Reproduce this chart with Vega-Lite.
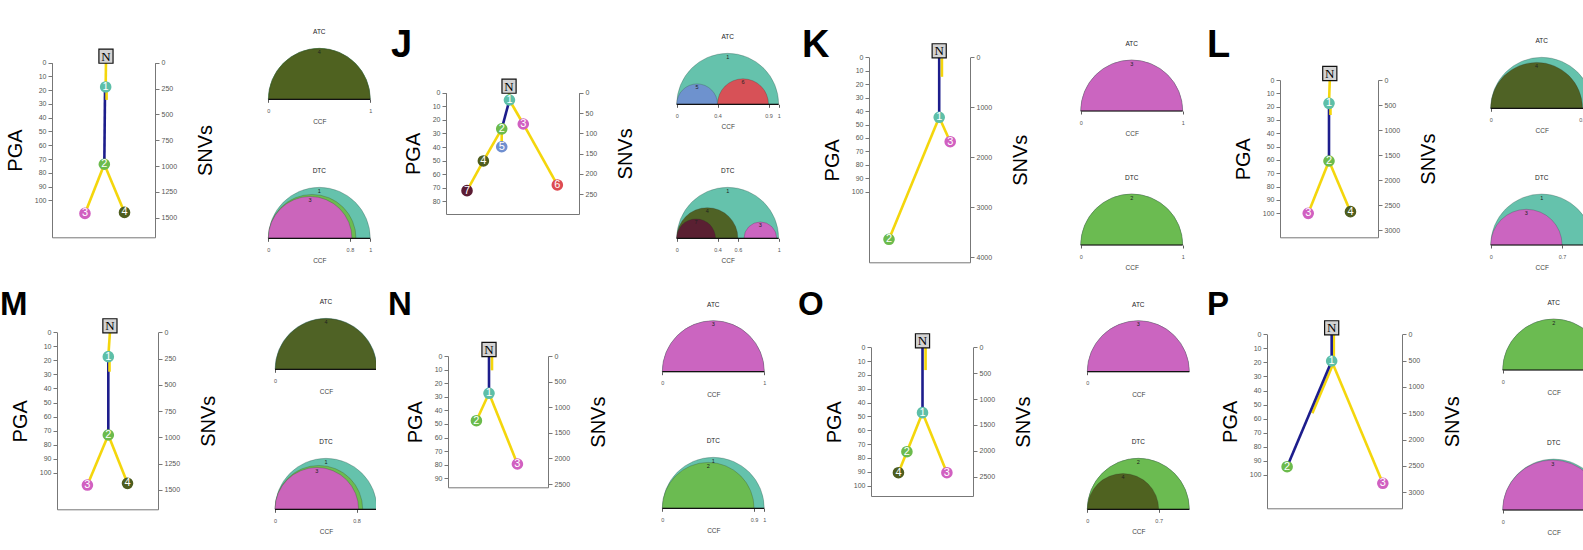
{
  "$schema": "https://vega.github.io/schema/vega-lite/v6.json",
  "padding": 0,
  "background": "white",
  "usermeta": {"embedOptions": {"actions": false}},
  "datasets": {
    "nodes": [
      {"p":"I","id":"N","x":0.524,"s":0},{"p":"I","id":"1","x":0.521,"s":235},{"p":"I","id":"2","x":0.508,"s":983},{"p":"I","id":"3","x":0.32,"s":1459},{"p":"I","id":"4","x":0.704,"s":1449},
      {"p":"J","id":"N","x":0.474,"s":0},{"p":"J","id":"1","x":0.477,"s":18},{"p":"J","id":"2","x":0.419,"s":89},{"p":"J","id":"3","x":0.581,"s":77},{"p":"J","id":"4","x":0.281,"s":168},{"p":"J","id":"5","x":0.419,"s":133},{"p":"J","id":"6","x":0.837,"s":227},{"p":"J","id":"7","x":0.158,"s":241},
      {"p":"K","id":"N","x":0.695,"s":0},{"p":"K","id":"1","x":0.695,"s":1200},{"p":"K","id":"2","x":0.198,"s":3640},{"p":"K","id":"3","x":0.804,"s":1688},
      {"p":"L","id":"N","x":0.508,"s":0},{"p":"L","id":"1","x":0.5,"s":467},{"p":"L","id":"2","x":0.5,"s":1620},{"p":"L","id":"3","x":0.288,"s":2667},{"p":"L","id":"4","x":0.719,"s":2633},
      {"p":"M","id":"N","x":0.524,"s":0},{"p":"M","id":"1","x":0.508,"s":232},{"p":"M","id":"2","x":0.508,"s":977},{"p":"M","id":"3","x":0.301,"s":1453},{"p":"M","id":"4","x":0.698,"s":1437},
      {"p":"N","id":"N","x":0.41,"s":0},{"p":"N","id":"1","x":0.41,"s":728},{"p":"N","id":"2","x":0.284,"s":1264},{"p":"N","id":"3","x":0.694,"s":2109},
      {"p":"O","id":"N","x":0.505,"s":0},{"p":"O","id":"1","x":0.505,"s":1263},{"p":"O","id":"2","x":0.352,"s":2017},{"p":"O","id":"3","x":0.744,"s":2423},{"p":"O","id":"4","x":0.269,"s":2423},
      {"p":"P","id":"N","x":0.479,"s":0},{"p":"P","id":"1","x":0.479,"s":507},{"p":"P","id":"2","x":0.149,"s":2514},{"p":"P","id":"3","x":0.858,"s":2829}
    ],
    "edges": [
      {"p":"I","x1":0.524,"s1":0,"x2":0.521,"s2":235,"k":"branch"},{"p":"I","x1":0.515,"s1":235,"x2":0.508,"s2":983,"k":"trunk"},{"p":"I","x1":0.53,"s1":235,"x2":0.53,"s2":360,"k":"branch"},{"p":"I","x1":0.508,"s1":983,"x2":0.32,"s2":1459,"k":"branch"},{"p":"I","x1":0.508,"s1":983,"x2":0.704,"s2":1449,"k":"branch"},
      {"p":"J","x1":0.474,"s1":0,"x2":0.477,"s2":18,"k":"branch"},{"p":"J","x1":0.477,"s1":18,"x2":0.419,"s2":89,"k":"trunk"},{"p":"J","x1":0.419,"s1":89,"x2":0.419,"s2":133,"k":"branch"},{"p":"J","x1":0.419,"s1":89,"x2":0.281,"s2":168,"k":"branch"},{"p":"J","x1":0.281,"s1":168,"x2":0.158,"s2":241,"k":"branch"},{"p":"J","x1":0.477,"s1":18,"x2":0.581,"s2":77,"k":"branch"},{"p":"J","x1":0.581,"s1":77,"x2":0.837,"s2":227,"k":"branch"},
      {"p":"K","x1":0.695,"s1":0,"x2":0.695,"s2":1200,"k":"trunk"},{"p":"K","x1":0.722,"s1":20,"x2":0.722,"s2":390,"k":"branch"},{"p":"K","x1":0.695,"s1":1200,"x2":0.198,"s2":3640,"k":"branch"},{"p":"K","x1":0.695,"s1":1200,"x2":0.804,"s2":1688,"k":"branch"},
      {"p":"L","x1":0.508,"s1":0,"x2":0.5,"s2":467,"k":"branch"},{"p":"L","x1":0.5,"s1":467,"x2":0.5,"s2":1620,"k":"trunk"},{"p":"L","x1":0.515,"s1":467,"x2":0.515,"s2":700,"k":"branch"},{"p":"L","x1":0.5,"s1":1620,"x2":0.288,"s2":2667,"k":"branch"},{"p":"L","x1":0.5,"s1":1620,"x2":0.719,"s2":2633,"k":"branch"},
      {"p":"M","x1":0.524,"s1":0,"x2":0.508,"s2":232,"k":"branch"},{"p":"M","x1":0.508,"s1":232,"x2":0.508,"s2":977,"k":"trunk"},{"p":"M","x1":0.52,"s1":232,"x2":0.52,"s2":375,"k":"branch"},{"p":"M","x1":0.508,"s1":977,"x2":0.301,"s2":1453,"k":"branch"},{"p":"M","x1":0.508,"s1":977,"x2":0.698,"s2":1437,"k":"branch"},
      {"p":"N","x1":0.41,"s1":0,"x2":0.41,"s2":728,"k":"trunk"},{"p":"N","x1":0.44,"s1":0,"x2":0.44,"s2":280,"k":"branch"},{"p":"N","x1":0.41,"s1":728,"x2":0.284,"s2":1264,"k":"branch"},{"p":"N","x1":0.41,"s1":728,"x2":0.694,"s2":2109,"k":"branch"},
      {"p":"O","x1":0.505,"s1":0,"x2":0.505,"s2":1263,"k":"trunk"},{"p":"O","x1":0.535,"s1":0,"x2":0.535,"s2":440,"k":"branch"},{"p":"O","x1":0.505,"s1":1263,"x2":0.352,"s2":2017,"k":"branch"},{"p":"O","x1":0.352,"s1":2017,"x2":0.269,"s2":2423,"k":"branch"},{"p":"O","x1":0.505,"s1":1263,"x2":0.744,"s2":2423,"k":"branch"},
      {"p":"P","x1":0.495,"s1":0,"x2":0.495,"s2":507,"k":"branch"},{"p":"P","x1":0.479,"s1":0,"x2":0.479,"s2":507,"k":"trunk"},{"p":"P","x1":0.499,"s1":507,"x2":0.336,"s2":1500,"k":"branch"},{"p":"P","x1":0.479,"s1":507,"x2":0.149,"s2":2514,"k":"trunk"},{"p":"P","x1":0.479,"s1":507,"x2":0.858,"s2":2829,"k":"branch"}
    ],
    "arcs": [
      {"p":"I","plot":"ATC","clone":"1","c":0.5,"r":0.5,"lbl":0},{"p":"I","plot":"ATC","clone":"2","c":0.5,"r":0.5,"lbl":0},{"p":"I","plot":"ATC","clone":"4","c":0.5,"r":0.497,"lbl":1},
      {"p":"I","plot":"DTC","clone":"1","c":0.5,"r":0.5,"lbl":1},{"p":"I","plot":"DTC","clone":"2","c":0.43,"r":0.43,"lbl":0},{"p":"I","plot":"DTC","clone":"3","c":0.41,"r":0.41,"lbl":1},
      {"p":"J","plot":"ATC","clone":"1","c":0.5,"r":0.5,"lbl":1},{"p":"J","plot":"ATC","clone":"5","c":0.2,"r":0.2,"lbl":1},{"p":"J","plot":"ATC","clone":"6","c":0.65,"r":0.25,"lbl":1},
      {"p":"J","plot":"DTC","clone":"1","c":0.5,"r":0.5,"lbl":1},{"p":"J","plot":"DTC","clone":"4","c":0.3,"r":0.3,"lbl":1},{"p":"J","plot":"DTC","clone":"7","c":0.19,"r":0.19,"lbl":1},{"p":"J","plot":"DTC","clone":"3","c":0.82,"r":0.16,"lbl":1},
      {"p":"K","plot":"ATC","clone":"1","c":0.5,"r":0.5,"lbl":0},{"p":"K","plot":"ATC","clone":"3","c":0.5,"r":0.5,"lbl":1},
      {"p":"K","plot":"DTC","clone":"1","c":0.5,"r":0.5,"lbl":0},{"p":"K","plot":"DTC","clone":"2","c":0.5,"r":0.5,"lbl":1},
      {"p":"L","plot":"ATC","clone":"1","c":0.5,"r":0.5,"lbl":0},{"p":"L","plot":"ATC","clone":"4","c":0.45,"r":0.45,"lbl":1},
      {"p":"L","plot":"DTC","clone":"1","c":0.5,"r":0.5,"lbl":1},{"p":"L","plot":"DTC","clone":"3","c":0.35,"r":0.35,"lbl":1},
      {"p":"M","plot":"ATC","clone":"1","c":0.5,"r":0.5,"lbl":0},{"p":"M","plot":"ATC","clone":"4","c":0.5,"r":0.497,"lbl":1},
      {"p":"M","plot":"DTC","clone":"1","c":0.5,"r":0.5,"lbl":1},{"p":"M","plot":"DTC","clone":"2","c":0.43,"r":0.43,"lbl":0},{"p":"M","plot":"DTC","clone":"3","c":0.41,"r":0.41,"lbl":1},
      {"p":"N","plot":"ATC","clone":"1","c":0.5,"r":0.5,"lbl":0},{"p":"N","plot":"ATC","clone":"3","c":0.5,"r":0.5,"lbl":1},
      {"p":"N","plot":"DTC","clone":"1","c":0.5,"r":0.5,"lbl":1},{"p":"N","plot":"DTC","clone":"2","c":0.45,"r":0.45,"lbl":1},
      {"p":"O","plot":"ATC","clone":"1","c":0.5,"r":0.5,"lbl":0},{"p":"O","plot":"ATC","clone":"3","c":0.5,"r":0.5,"lbl":1},
      {"p":"O","plot":"DTC","clone":"1","c":0.5,"r":0.5,"lbl":0},{"p":"O","plot":"DTC","clone":"2","c":0.5,"r":0.5,"lbl":1},{"p":"O","plot":"DTC","clone":"4","c":0.35,"r":0.35,"lbl":1},
      {"p":"P","plot":"ATC","clone":"1","c":0.5,"r":0.5,"lbl":0},{"p":"P","plot":"ATC","clone":"2","c":0.5,"r":0.5,"lbl":1},
      {"p":"P","plot":"DTC","clone":"1","c":0.5,"r":0.5,"lbl":0},{"p":"P","plot":"DTC","clone":"3","c":0.49,"r":0.49,"lbl":1}
    ]
  },
  "spacing": 0,
  "vconcat": [
  {"spacing": 0, "bounds": "flush", "hconcat": [
    {"width": 52, "height": 280, "data": {"values": []}, "mark": "point", "encoding": {}},
    {"width": 103, "height": 280,
     "layer": [
      {"data": {"values": [{}]}, "mark": {"type": "rule", "opacity": 0},
       "encoding": {"y": {"datum": 0, "type": "quantitative", "scale": {"domain": [0, 126.9], "range": [62.7, 237.3], "nice": false}, "axis": {"orient": "left", "values": [0,10,20,30,40,50,60,70,80,90,100], "format": "d", "title": "PGA"}}}},
      {"layer": [
        {"data": {"name": "edges"}, "transform": [{"filter": "datum.p == 'I'"}], "mark": {"type": "rule", "strokeWidth": 2.6},
         "encoding": {"x": {"field": "x1", "type": "quantitative", "scale": {"domain": [0, 1], "nice": false}, "axis": {"orient": "bottom", "offset": -42.7, "labels": false, "ticks": false, "title": null, "domain": true, "domainColor": "#777"}}, "x2": {"field": "x2"},
          "y": {"field": "s1", "type": "quantitative", "scale": {"domain": [0, 1690], "range": [62.7, 237.3], "nice": false}, "axis": {"orient": "right", "values": [0,250,500,750,1000,1250,1500], "format": "d", "title": "SNVs"}}, "y2": {"field": "s2"},
          "stroke": {"field": "k", "type": "nominal", "scale": {"domain": ["trunk", "branch"], "range": ["#1d1d8c", "#f4d60c"]}, "legend": null}}},
        {"data": {"name": "nodes"}, "transform": [{"filter": "datum.p == 'I' && datum.id != 'N'"}], "mark": {"type": "circle", "size": 135, "opacity": 1},
         "encoding": {"x": {"field": "x", "type": "quantitative"}, "y": {"field": "s", "type": "quantitative"}, "fill": {"field": "id", "type": "nominal", "scale": {"domain": ["1","2","3","4","5","6","7"], "range": ["#5dbfa8","#6cbb4c","#d160c1","#4e5d1e","#6f8fd0","#dd4b52","#5b1c33"]}, "legend": null}}},
        {"data": {"name": "nodes"}, "transform": [{"filter": "datum.p == 'I' && datum.id != 'N'"}], "mark": {"type": "text", "fontSize": 11, "color": "#fff"},
         "encoding": {"x": {"field": "x", "type": "quantitative"}, "y": {"field": "s", "type": "quantitative"}, "text": {"field": "id"}}},
        {"data": {"name": "nodes"}, "transform": [{"filter": "datum.p == 'I' && datum.id == 'N'"}], "mark": {"type": "square", "size": 200, "fill": "#d3d3d3", "stroke": "#111", "strokeWidth": 1.2, "opacity": 1, "yOffset": -6.5},
         "encoding": {"x": {"field": "x", "type": "quantitative"}, "y": {"field": "s", "type": "quantitative"}}},
        {"data": {"name": "nodes"}, "transform": [{"filter": "datum.p == 'I' && datum.id == 'N'"}], "mark": {"type": "text", "fontSize": 13, "font": "Liberation Serif", "color": "#000", "yOffset": -6},
         "encoding": {"x": {"field": "x", "type": "quantitative"}, "y": {"field": "s", "type": "quantitative"}, "text": {"field": "id"}}}
      ]}
     ],
     "resolve": {"scale": {"y": "independent"}, "axis": {"y": "independent"}}
    },
    {"width": 230, "height": 280,
     "layer": [
      {"layer": [
        {"data": {"name": "arcs"}, "transform": [{"filter": "datum.p == 'I' && datum.plot == 'ATC'"}],
         "mark": {"type": "arc", "theta": -1.5708, "theta2": 1.5708, "clip": true, "stroke": "#222", "strokeWidth": 0.5, "strokeOpacity": 0.45, "fillOpacity": 0.95},
         "encoding": {"x": {"field": "c", "type": "quantitative", "stack": null, "scale": {"domain": [0, 1], "range": [113.3, 215.3], "nice": false}, "axis": {"orient": "bottom", "offset": -180.7, "values": [0, 1], "format": "~g", "title": "CCF"}},
          "y": {"datum": 0, "type": "quantitative", "scale": {"domain": [0, 1], "range": [99.3, -2.7], "nice": false}, "axis": null},
          "radius": {"field": "r", "type": "quantitative", "stack": null, "scale": {"type": "linear", "domain": [0, 1], "range": [0, 102]}},
          "fill": {"field": "clone", "type": "nominal", "scale": {"domain": ["1","2","3","4","5","6","7"], "range": ["#5dbfa8","#6cbb4c","#d160c1","#4e5d1e","#6f8fd0","#dd4b52","#5b1c33"]}, "legend": null}}},
        {"data": {"name": "arcs"}, "transform": [{"filter": "datum.p == 'I' && datum.plot == 'ATC' && datum.lbl == 1"}], "mark": {"type": "text", "fontSize": 5.5, "baseline": "top", "dy": 1.5, "color": "#222"},
         "encoding": {"x": {"field": "c", "type": "quantitative"}, "y": {"field": "r", "type": "quantitative"}, "text": {"field": "clone"}}},
        {"data": {"values": [{}]}, "mark": {"type": "rule", "clip": true, "color": "#111", "strokeWidth": 1.2},
         "encoding": {"x": {"datum": 0, "type": "quantitative"}, "x2": {"datum": 1}, "y": {"datum": 0, "type": "quantitative"}}},
        {"data": {"values": [{"t": "ATC"}]}, "mark": {"type": "text", "fontSize": 6.5, "color": "#222"},
         "encoding": {"x": {"datum": 0.5, "type": "quantitative"}, "y": {"datum": 0.655, "type": "quantitative"}, "text": {"field": "t"}}}
      ]},
      {"layer": [
        {"data": {"name": "arcs"}, "transform": [{"filter": "datum.p == 'I' && datum.plot == 'DTC'"}],
         "mark": {"type": "arc", "theta": -1.5708, "theta2": 1.5708, "clip": true, "stroke": "#222", "strokeWidth": 0.5, "strokeOpacity": 0.45, "fillOpacity": 0.95},
         "encoding": {"x": {"field": "c", "type": "quantitative", "stack": null, "scale": {"domain": [0, 1], "range": [113.3, 215.3], "nice": false}, "axis": {"orient": "bottom", "offset": -41.7, "values": [0, 0.8, 1], "format": "~g", "title": "CCF"}},
          "y": {"datum": 0, "type": "quantitative", "scale": {"domain": [0, 1], "range": [238.3, 136.3], "nice": false}, "axis": null},
          "radius": {"field": "r", "type": "quantitative", "stack": null, "scale": {"type": "linear", "domain": [0, 1], "range": [0, 102]}},
          "fill": {"field": "clone", "type": "nominal", "scale": {"domain": ["1","2","3","4","5","6","7"], "range": ["#5dbfa8","#6cbb4c","#d160c1","#4e5d1e","#6f8fd0","#dd4b52","#5b1c33"]}, "legend": null}}},
        {"data": {"name": "arcs"}, "transform": [{"filter": "datum.p == 'I' && datum.plot == 'DTC' && datum.lbl == 1"}], "mark": {"type": "text", "fontSize": 5.5, "baseline": "top", "dy": 1.5, "color": "#222"},
         "encoding": {"x": {"field": "c", "type": "quantitative"}, "y": {"field": "r", "type": "quantitative"}, "text": {"field": "clone"}}},
        {"data": {"values": [{}]}, "mark": {"type": "rule", "clip": true, "color": "#111", "strokeWidth": 1.2},
         "encoding": {"x": {"datum": 0, "type": "quantitative"}, "x2": {"datum": 1}, "y": {"datum": 0, "type": "quantitative"}}},
        {"data": {"values": [{"t": "DTC"}]}, "mark": {"type": "text", "fontSize": 6.5, "color": "#222"},
         "encoding": {"x": {"datum": 0.5, "type": "quantitative"}, "y": {"datum": 0.655, "type": "quantitative"}, "text": {"field": "t"}}}
      ]}
     ],
     "resolve": {"scale": {"x": "independent", "y": "independent", "radius": "independent"}, "axis": {"x": "independent", "y": "independent"}}
    },
    {"width": 61, "height": 280, "data": {"values": []}, "mark": "point", "encoding": {}},
    {"width": 133, "height": 280,
     "title": {"text": "J", "dx": -55, "dy": 69},
     "layer": [
      {"data": {"values": [{}]}, "mark": {"type": "rule", "opacity": 0},
       "encoding": {"y": {"datum": 0, "type": "quantitative", "scale": {"domain": [0, 89.3], "range": [92.7, 214], "nice": false}, "axis": {"orient": "left", "values": [0,10,20,30,40,50,60,70,80], "format": "d", "title": "PGA"}}}},
      {"layer": [
        {"data": {"name": "edges"}, "transform": [{"filter": "datum.p == 'J'"}], "mark": {"type": "rule", "strokeWidth": 2.6},
         "encoding": {"x": {"field": "x1", "type": "quantitative", "scale": {"domain": [0, 1], "nice": false}, "axis": {"orient": "bottom", "offset": -66, "labels": false, "ticks": false, "title": null, "domain": true, "domainColor": "#777"}}, "x2": {"field": "x2"},
          "y": {"field": "s1", "type": "quantitative", "scale": {"domain": [0, 298.5], "range": [92.7, 214], "nice": false}, "axis": {"orient": "right", "values": [0,50,100,150,200,250], "format": "d", "title": "SNVs"}}, "y2": {"field": "s2"},
          "stroke": {"field": "k", "type": "nominal", "scale": {"domain": ["trunk", "branch"], "range": ["#1d1d8c", "#f4d60c"]}, "legend": null}}},
        {"data": {"name": "nodes"}, "transform": [{"filter": "datum.p == 'J' && datum.id != 'N'"}], "mark": {"type": "circle", "size": 135, "opacity": 1},
         "encoding": {"x": {"field": "x", "type": "quantitative"}, "y": {"field": "s", "type": "quantitative"}, "fill": {"field": "id", "type": "nominal", "scale": {"domain": ["1","2","3","4","5","6","7"], "range": ["#5dbfa8","#6cbb4c","#d160c1","#4e5d1e","#6f8fd0","#dd4b52","#5b1c33"]}, "legend": null}}},
        {"data": {"name": "nodes"}, "transform": [{"filter": "datum.p == 'J' && datum.id != 'N'"}], "mark": {"type": "text", "fontSize": 11, "color": "#fff"},
         "encoding": {"x": {"field": "x", "type": "quantitative"}, "y": {"field": "s", "type": "quantitative"}, "text": {"field": "id"}}},
        {"data": {"name": "nodes"}, "transform": [{"filter": "datum.p == 'J' && datum.id == 'N'"}], "mark": {"type": "square", "size": 200, "fill": "#d3d3d3", "stroke": "#111", "strokeWidth": 1.2, "opacity": 1, "yOffset": -6.5},
         "encoding": {"x": {"field": "x", "type": "quantitative"}, "y": {"field": "s", "type": "quantitative"}}},
        {"data": {"name": "nodes"}, "transform": [{"filter": "datum.p == 'J' && datum.id == 'N'"}], "mark": {"type": "text", "fontSize": 13, "font": "Liberation Serif", "color": "#000", "yOffset": -6},
         "encoding": {"x": {"field": "x", "type": "quantitative"}, "y": {"field": "s", "type": "quantitative"}, "text": {"field": "id"}}}
      ]}
     ],
     "resolve": {"scale": {"y": "independent"}, "axis": {"y": "independent"}}
    },
    {"width": 290, "height": 280,
     "layer": [
      {"layer": [
        {"data": {"name": "arcs"}, "transform": [{"filter": "datum.p == 'J' && datum.plot == 'ATC'"}],
         "mark": {"type": "arc", "theta": -1.5708, "theta2": 1.5708, "clip": true, "stroke": "#222", "strokeWidth": 0.5, "strokeOpacity": 0.45, "fillOpacity": 0.95},
         "encoding": {"x": {"field": "c", "type": "quantitative", "stack": null, "scale": {"domain": [0, 1], "range": [97.7, 199.7], "nice": false}, "axis": {"orient": "bottom", "offset": -175.7, "values": [0, 0.4, 0.9, 1], "format": "~g", "title": "CCF"}},
          "y": {"datum": 0, "type": "quantitative", "scale": {"domain": [0, 1], "range": [104.3, 2.3], "nice": false}, "axis": null},
          "radius": {"field": "r", "type": "quantitative", "stack": null, "scale": {"type": "linear", "domain": [0, 1], "range": [0, 102]}},
          "fill": {"field": "clone", "type": "nominal", "scale": {"domain": ["1","2","3","4","5","6","7"], "range": ["#5dbfa8","#6cbb4c","#d160c1","#4e5d1e","#6f8fd0","#dd4b52","#5b1c33"]}, "legend": null}}},
        {"data": {"name": "arcs"}, "transform": [{"filter": "datum.p == 'J' && datum.plot == 'ATC' && datum.lbl == 1"}], "mark": {"type": "text", "fontSize": 5.5, "baseline": "top", "dy": 1.5, "color": "#222"},
         "encoding": {"x": {"field": "c", "type": "quantitative"}, "y": {"field": "r", "type": "quantitative"}, "text": {"field": "clone"}}},
        {"data": {"values": [{}]}, "mark": {"type": "rule", "clip": true, "color": "#111", "strokeWidth": 1.2},
         "encoding": {"x": {"datum": 0, "type": "quantitative"}, "x2": {"datum": 1}, "y": {"datum": 0, "type": "quantitative"}}},
        {"data": {"values": [{"t": "ATC"}]}, "mark": {"type": "text", "fontSize": 6.5, "color": "#222"},
         "encoding": {"x": {"datum": 0.5, "type": "quantitative"}, "y": {"datum": 0.655, "type": "quantitative"}, "text": {"field": "t"}}}
      ]},
      {"layer": [
        {"data": {"name": "arcs"}, "transform": [{"filter": "datum.p == 'J' && datum.plot == 'DTC'"}],
         "mark": {"type": "arc", "theta": -1.5708, "theta2": 1.5708, "clip": true, "stroke": "#222", "strokeWidth": 0.5, "strokeOpacity": 0.45, "fillOpacity": 0.95},
         "encoding": {"x": {"field": "c", "type": "quantitative", "stack": null, "scale": {"domain": [0, 1], "range": [97.7, 199.7], "nice": false}, "axis": {"orient": "bottom", "offset": -41.7, "values": [0, 0.4, 0.6, 1], "format": "~g", "title": "CCF"}},
          "y": {"datum": 0, "type": "quantitative", "scale": {"domain": [0, 1], "range": [238.3, 136.3], "nice": false}, "axis": null},
          "radius": {"field": "r", "type": "quantitative", "stack": null, "scale": {"type": "linear", "domain": [0, 1], "range": [0, 102]}},
          "fill": {"field": "clone", "type": "nominal", "scale": {"domain": ["1","2","3","4","5","6","7"], "range": ["#5dbfa8","#6cbb4c","#d160c1","#4e5d1e","#6f8fd0","#dd4b52","#5b1c33"]}, "legend": null}}},
        {"data": {"name": "arcs"}, "transform": [{"filter": "datum.p == 'J' && datum.plot == 'DTC' && datum.lbl == 1"}], "mark": {"type": "text", "fontSize": 5.5, "baseline": "top", "dy": 1.5, "color": "#222"},
         "encoding": {"x": {"field": "c", "type": "quantitative"}, "y": {"field": "r", "type": "quantitative"}, "text": {"field": "clone"}}},
        {"data": {"values": [{}]}, "mark": {"type": "rule", "clip": true, "color": "#111", "strokeWidth": 1.2},
         "encoding": {"x": {"datum": 0, "type": "quantitative"}, "x2": {"datum": 1}, "y": {"datum": 0, "type": "quantitative"}}},
        {"data": {"values": [{"t": "DTC"}]}, "mark": {"type": "text", "fontSize": 6.5, "color": "#222"},
         "encoding": {"x": {"datum": 0.5, "type": "quantitative"}, "y": {"datum": 0.655, "type": "quantitative"}, "text": {"field": "t"}}}
      ]}
     ],
     "resolve": {"scale": {"x": "independent", "y": "independent", "radius": "independent"}, "axis": {"x": "independent", "y": "independent"}}
    },
    {"width": 101, "height": 280,
     "title": {"text": "K", "dx": -67, "dy": 69},
     "layer": [
      {"data": {"values": [{}]}, "mark": {"type": "rule", "opacity": 0},
       "encoding": {"y": {"datum": 0, "type": "quantitative", "scale": {"domain": [0, 152.5], "range": [57.3, 262.3], "nice": false}, "axis": {"orient": "left", "values": [0,10,20,30,40,50,60,70,80,90,100], "format": "d", "title": "PGA"}}}},
      {"layer": [
        {"data": {"name": "edges"}, "transform": [{"filter": "datum.p == 'K'"}], "mark": {"type": "rule", "strokeWidth": 2.6},
         "encoding": {"x": {"field": "x1", "type": "quantitative", "scale": {"domain": [0, 1], "nice": false}, "axis": {"orient": "bottom", "offset": -17.7, "labels": false, "ticks": false, "title": null, "domain": true, "domainColor": "#777"}}, "x2": {"field": "x2"},
          "y": {"field": "s1", "type": "quantitative", "scale": {"domain": [0, 4100], "range": [57.3, 262.3], "nice": false}, "axis": {"orient": "right", "values": [0,500,1000,1500,2000,2500,3000,3500,4000], "format": "d", "title": "SNVs"}}, "y2": {"field": "s2"},
          "stroke": {"field": "k", "type": "nominal", "scale": {"domain": ["trunk", "branch"], "range": ["#1d1d8c", "#f4d60c"]}, "legend": null}}},
        {"data": {"name": "nodes"}, "transform": [{"filter": "datum.p == 'K' && datum.id != 'N'"}], "mark": {"type": "circle", "size": 135, "opacity": 1},
         "encoding": {"x": {"field": "x", "type": "quantitative"}, "y": {"field": "s", "type": "quantitative"}, "fill": {"field": "id", "type": "nominal", "scale": {"domain": ["1","2","3","4","5","6","7"], "range": ["#5dbfa8","#6cbb4c","#d160c1","#4e5d1e","#6f8fd0","#dd4b52","#5b1c33"]}, "legend": null}}},
        {"data": {"name": "nodes"}, "transform": [{"filter": "datum.p == 'K' && datum.id != 'N'"}], "mark": {"type": "text", "fontSize": 11, "color": "#fff"},
         "encoding": {"x": {"field": "x", "type": "quantitative"}, "y": {"field": "s", "type": "quantitative"}, "text": {"field": "id"}}},
        {"data": {"name": "nodes"}, "transform": [{"filter": "datum.p == 'K' && datum.id == 'N'"}], "mark": {"type": "square", "size": 200, "fill": "#d3d3d3", "stroke": "#111", "strokeWidth": 1.2, "opacity": 1, "yOffset": -6.5},
         "encoding": {"x": {"field": "x", "type": "quantitative"}, "y": {"field": "s", "type": "quantitative"}}},
        {"data": {"name": "nodes"}, "transform": [{"filter": "datum.p == 'K' && datum.id == 'N'"}], "mark": {"type": "text", "fontSize": 13, "font": "Liberation Serif", "color": "#000", "yOffset": -6},
         "encoding": {"x": {"field": "x", "type": "quantitative"}, "y": {"field": "s", "type": "quantitative"}, "text": {"field": "id"}}}
      ]}
     ],
     "resolve": {"scale": {"y": "independent"}, "axis": {"y": "independent"}}
    },
    {"width": 225, "height": 280,
     "layer": [
      {"layer": [
        {"data": {"name": "arcs"}, "transform": [{"filter": "datum.p == 'K' && datum.plot == 'ATC'"}],
         "mark": {"type": "arc", "theta": -1.5708, "theta2": 1.5708, "clip": true, "stroke": "#222", "strokeWidth": 0.5, "strokeOpacity": 0.45, "fillOpacity": 0.95},
         "encoding": {"x": {"field": "c", "type": "quantitative", "stack": null, "scale": {"domain": [0, 1], "range": [110.7, 212.7], "nice": false}, "axis": {"orient": "bottom", "offset": -169, "values": [0, 1], "format": "~g", "title": "CCF"}},
          "y": {"datum": 0, "type": "quantitative", "scale": {"domain": [0, 1], "range": [111, 9], "nice": false}, "axis": null},
          "radius": {"field": "r", "type": "quantitative", "stack": null, "scale": {"type": "linear", "domain": [0, 1], "range": [0, 102]}},
          "fill": {"field": "clone", "type": "nominal", "scale": {"domain": ["1","2","3","4","5","6","7"], "range": ["#5dbfa8","#6cbb4c","#d160c1","#4e5d1e","#6f8fd0","#dd4b52","#5b1c33"]}, "legend": null}}},
        {"data": {"name": "arcs"}, "transform": [{"filter": "datum.p == 'K' && datum.plot == 'ATC' && datum.lbl == 1"}], "mark": {"type": "text", "fontSize": 5.5, "baseline": "top", "dy": 1.5, "color": "#222"},
         "encoding": {"x": {"field": "c", "type": "quantitative"}, "y": {"field": "r", "type": "quantitative"}, "text": {"field": "clone"}}},
        {"data": {"values": [{}]}, "mark": {"type": "rule", "clip": true, "color": "#111", "strokeWidth": 1.2},
         "encoding": {"x": {"datum": 0, "type": "quantitative"}, "x2": {"datum": 1}, "y": {"datum": 0, "type": "quantitative"}}},
        {"data": {"values": [{"t": "ATC"}]}, "mark": {"type": "text", "fontSize": 6.5, "color": "#222"},
         "encoding": {"x": {"datum": 0.5, "type": "quantitative"}, "y": {"datum": 0.655, "type": "quantitative"}, "text": {"field": "t"}}}
      ]},
      {"layer": [
        {"data": {"name": "arcs"}, "transform": [{"filter": "datum.p == 'K' && datum.plot == 'DTC'"}],
         "mark": {"type": "arc", "theta": -1.5708, "theta2": 1.5708, "clip": true, "stroke": "#222", "strokeWidth": 0.5, "strokeOpacity": 0.45, "fillOpacity": 0.95},
         "encoding": {"x": {"field": "c", "type": "quantitative", "stack": null, "scale": {"domain": [0, 1], "range": [110.7, 212.7], "nice": false}, "axis": {"orient": "bottom", "offset": -35, "values": [0, 1], "format": "~g", "title": "CCF"}},
          "y": {"datum": 0, "type": "quantitative", "scale": {"domain": [0, 1], "range": [245, 143], "nice": false}, "axis": null},
          "radius": {"field": "r", "type": "quantitative", "stack": null, "scale": {"type": "linear", "domain": [0, 1], "range": [0, 102]}},
          "fill": {"field": "clone", "type": "nominal", "scale": {"domain": ["1","2","3","4","5","6","7"], "range": ["#5dbfa8","#6cbb4c","#d160c1","#4e5d1e","#6f8fd0","#dd4b52","#5b1c33"]}, "legend": null}}},
        {"data": {"name": "arcs"}, "transform": [{"filter": "datum.p == 'K' && datum.plot == 'DTC' && datum.lbl == 1"}], "mark": {"type": "text", "fontSize": 5.5, "baseline": "top", "dy": 1.5, "color": "#222"},
         "encoding": {"x": {"field": "c", "type": "quantitative"}, "y": {"field": "r", "type": "quantitative"}, "text": {"field": "clone"}}},
        {"data": {"values": [{}]}, "mark": {"type": "rule", "clip": true, "color": "#111", "strokeWidth": 1.2},
         "encoding": {"x": {"datum": 0, "type": "quantitative"}, "x2": {"datum": 1}, "y": {"datum": 0, "type": "quantitative"}}},
        {"data": {"values": [{"t": "DTC"}]}, "mark": {"type": "text", "fontSize": 6.5, "color": "#222"},
         "encoding": {"x": {"datum": 0.5, "type": "quantitative"}, "y": {"datum": 0.655, "type": "quantitative"}, "text": {"field": "t"}}}
      ]}
     ],
     "resolve": {"scale": {"x": "independent", "y": "independent", "radius": "independent"}, "axis": {"x": "independent", "y": "independent"}}
    },
    {"width": 85, "height": 280, "data": {"values": []}, "mark": "point", "encoding": {}},
    {"width": 98, "height": 280,
     "title": {"text": "L", "dx": -73, "dy": 69},
     "layer": [
      {"data": {"values": [{}]}, "mark": {"type": "rule", "opacity": 0},
       "encoding": {"y": {"datum": 0, "type": "quantitative", "scale": {"domain": [0, 118], "range": [80, 237.3], "nice": false}, "axis": {"orient": "left", "values": [0,10,20,30,40,50,60,70,80,90,100], "format": "d", "title": "PGA"}}}},
      {"layer": [
        {"data": {"name": "edges"}, "transform": [{"filter": "datum.p == 'L'"}], "mark": {"type": "rule", "strokeWidth": 2.6},
         "encoding": {"x": {"field": "x1", "type": "quantitative", "scale": {"domain": [0, 1], "nice": false}, "axis": {"orient": "bottom", "offset": -42.7, "labels": false, "ticks": false, "title": null, "domain": true, "domainColor": "#777"}}, "x2": {"field": "x2"},
          "y": {"field": "s1", "type": "quantitative", "scale": {"domain": [0, 3146], "range": [80, 237.3], "nice": false}, "axis": {"orient": "right", "values": [0,500,1000,1500,2000,2500,3000], "format": "d", "title": "SNVs"}}, "y2": {"field": "s2"},
          "stroke": {"field": "k", "type": "nominal", "scale": {"domain": ["trunk", "branch"], "range": ["#1d1d8c", "#f4d60c"]}, "legend": null}}},
        {"data": {"name": "nodes"}, "transform": [{"filter": "datum.p == 'L' && datum.id != 'N'"}], "mark": {"type": "circle", "size": 135, "opacity": 1},
         "encoding": {"x": {"field": "x", "type": "quantitative"}, "y": {"field": "s", "type": "quantitative"}, "fill": {"field": "id", "type": "nominal", "scale": {"domain": ["1","2","3","4","5","6","7"], "range": ["#5dbfa8","#6cbb4c","#d160c1","#4e5d1e","#6f8fd0","#dd4b52","#5b1c33"]}, "legend": null}}},
        {"data": {"name": "nodes"}, "transform": [{"filter": "datum.p == 'L' && datum.id != 'N'"}], "mark": {"type": "text", "fontSize": 11, "color": "#fff"},
         "encoding": {"x": {"field": "x", "type": "quantitative"}, "y": {"field": "s", "type": "quantitative"}, "text": {"field": "id"}}},
        {"data": {"name": "nodes"}, "transform": [{"filter": "datum.p == 'L' && datum.id == 'N'"}], "mark": {"type": "square", "size": 200, "fill": "#d3d3d3", "stroke": "#111", "strokeWidth": 1.2, "opacity": 1, "yOffset": -6.5},
         "encoding": {"x": {"field": "x", "type": "quantitative"}, "y": {"field": "s", "type": "quantitative"}}},
        {"data": {"name": "nodes"}, "transform": [{"filter": "datum.p == 'L' && datum.id == 'N'"}], "mark": {"type": "text", "fontSize": 13, "font": "Liberation Serif", "color": "#000", "yOffset": -6},
         "encoding": {"x": {"field": "x", "type": "quantitative"}, "y": {"field": "s", "type": "quantitative"}, "text": {"field": "id"}}}
      ]}
     ],
     "resolve": {"scale": {"y": "independent"}, "axis": {"y": "independent"}}
    },
    {"width": 205, "height": 280,
     "layer": [
      {"layer": [
        {"data": {"name": "arcs"}, "transform": [{"filter": "datum.p == 'L' && datum.plot == 'ATC'"}],
         "mark": {"type": "arc", "theta": -1.5708, "theta2": 1.5708, "clip": true, "stroke": "#222", "strokeWidth": 0.5, "strokeOpacity": 0.45, "fillOpacity": 0.95},
         "encoding": {"x": {"field": "c", "type": "quantitative", "stack": null, "scale": {"domain": [0, 1], "range": [112.7, 214.7], "nice": false}, "axis": {"orient": "bottom", "offset": -171.7, "values": [0, 0.9], "format": "~g", "title": "CCF"}},
          "y": {"datum": 0, "type": "quantitative", "scale": {"domain": [0, 1], "range": [108.3, 6.3], "nice": false}, "axis": null},
          "radius": {"field": "r", "type": "quantitative", "stack": null, "scale": {"type": "linear", "domain": [0, 1], "range": [0, 102]}},
          "fill": {"field": "clone", "type": "nominal", "scale": {"domain": ["1","2","3","4","5","6","7"], "range": ["#5dbfa8","#6cbb4c","#d160c1","#4e5d1e","#6f8fd0","#dd4b52","#5b1c33"]}, "legend": null}}},
        {"data": {"name": "arcs"}, "transform": [{"filter": "datum.p == 'L' && datum.plot == 'ATC' && datum.lbl == 1"}], "mark": {"type": "text", "fontSize": 5.5, "baseline": "top", "dy": 1.5, "color": "#222"},
         "encoding": {"x": {"field": "c", "type": "quantitative"}, "y": {"field": "r", "type": "quantitative"}, "text": {"field": "clone"}}},
        {"data": {"values": [{}]}, "mark": {"type": "rule", "clip": true, "color": "#111", "strokeWidth": 1.2},
         "encoding": {"x": {"datum": 0, "type": "quantitative"}, "x2": {"datum": 1}, "y": {"datum": 0, "type": "quantitative"}}},
        {"data": {"values": [{"t": "ATC"}]}, "mark": {"type": "text", "fontSize": 6.5, "color": "#222"},
         "encoding": {"x": {"datum": 0.5, "type": "quantitative"}, "y": {"datum": 0.655, "type": "quantitative"}, "text": {"field": "t"}}}
      ]},
      {"layer": [
        {"data": {"name": "arcs"}, "transform": [{"filter": "datum.p == 'L' && datum.plot == 'DTC'"}],
         "mark": {"type": "arc", "theta": -1.5708, "theta2": 1.5708, "clip": true, "stroke": "#222", "strokeWidth": 0.5, "strokeOpacity": 0.45, "fillOpacity": 0.95},
         "encoding": {"x": {"field": "c", "type": "quantitative", "stack": null, "scale": {"domain": [0, 1], "range": [112.7, 214.7], "nice": false}, "axis": {"orient": "bottom", "offset": -35, "values": [0, 0.7], "format": "~g", "title": "CCF"}},
          "y": {"datum": 0, "type": "quantitative", "scale": {"domain": [0, 1], "range": [245, 143], "nice": false}, "axis": null},
          "radius": {"field": "r", "type": "quantitative", "stack": null, "scale": {"type": "linear", "domain": [0, 1], "range": [0, 102]}},
          "fill": {"field": "clone", "type": "nominal", "scale": {"domain": ["1","2","3","4","5","6","7"], "range": ["#5dbfa8","#6cbb4c","#d160c1","#4e5d1e","#6f8fd0","#dd4b52","#5b1c33"]}, "legend": null}}},
        {"data": {"name": "arcs"}, "transform": [{"filter": "datum.p == 'L' && datum.plot == 'DTC' && datum.lbl == 1"}], "mark": {"type": "text", "fontSize": 5.5, "baseline": "top", "dy": 1.5, "color": "#222"},
         "encoding": {"x": {"field": "c", "type": "quantitative"}, "y": {"field": "r", "type": "quantitative"}, "text": {"field": "clone"}}},
        {"data": {"values": [{}]}, "mark": {"type": "rule", "clip": true, "color": "#111", "strokeWidth": 1.2},
         "encoding": {"x": {"datum": 0, "type": "quantitative"}, "x2": {"datum": 1}, "y": {"datum": 0, "type": "quantitative"}}},
        {"data": {"values": [{"t": "DTC"}]}, "mark": {"type": "text", "fontSize": 6.5, "color": "#222"},
         "encoding": {"x": {"datum": 0.5, "type": "quantitative"}, "y": {"datum": 0.655, "type": "quantitative"}, "text": {"field": "t"}}}
      ]}
     ],
     "resolve": {"scale": {"x": "independent", "y": "independent", "radius": "independent"}, "axis": {"x": "independent", "y": "independent"}}
    }
  ]},
  {"spacing": 0, "bounds": "flush", "hconcat": [
    {"width": 57, "height": 270, "data": {"values": []}, "mark": "point", "encoding": {}},
    {"width": 101, "height": 270,
     "title": {"text": "M", "dx": -57, "dy": 46, "fontSize": 33},
     "layer": [
      {"data": {"values": [{}]}, "mark": {"type": "rule", "opacity": 0},
       "encoding": {"y": {"datum": 0, "type": "quantitative", "scale": {"domain": [0, 126], "range": [52.3, 229.3], "nice": false}, "axis": {"orient": "left", "values": [0,10,20,30,40,50,60,70,80,90,100], "format": "d", "title": "PGA"}}}},
      {"layer": [
        {"data": {"name": "edges"}, "transform": [{"filter": "datum.p == 'M'"}], "mark": {"type": "rule", "strokeWidth": 2.6},
         "encoding": {"x": {"field": "x1", "type": "quantitative", "scale": {"domain": [0, 1], "nice": false}, "axis": {"orient": "bottom", "offset": -40.7, "labels": false, "ticks": false, "title": null, "domain": true, "domainColor": "#777"}}, "x2": {"field": "x2"},
          "y": {"field": "s1", "type": "quantitative", "scale": {"domain": [0, 1684], "range": [52.3, 229.3], "nice": false}, "axis": {"orient": "right", "values": [0,250,500,750,1000,1250,1500], "format": "d", "title": "SNVs"}}, "y2": {"field": "s2"},
          "stroke": {"field": "k", "type": "nominal", "scale": {"domain": ["trunk", "branch"], "range": ["#1d1d8c", "#f4d60c"]}, "legend": null}}},
        {"data": {"name": "nodes"}, "transform": [{"filter": "datum.p == 'M' && datum.id != 'N'"}], "mark": {"type": "circle", "size": 135, "opacity": 1},
         "encoding": {"x": {"field": "x", "type": "quantitative"}, "y": {"field": "s", "type": "quantitative"}, "fill": {"field": "id", "type": "nominal", "scale": {"domain": ["1","2","3","4","5","6","7"], "range": ["#5dbfa8","#6cbb4c","#d160c1","#4e5d1e","#6f8fd0","#dd4b52","#5b1c33"]}, "legend": null}}},
        {"data": {"name": "nodes"}, "transform": [{"filter": "datum.p == 'M' && datum.id != 'N'"}], "mark": {"type": "text", "fontSize": 11, "color": "#fff"},
         "encoding": {"x": {"field": "x", "type": "quantitative"}, "y": {"field": "s", "type": "quantitative"}, "text": {"field": "id"}}},
        {"data": {"name": "nodes"}, "transform": [{"filter": "datum.p == 'M' && datum.id == 'N'"}], "mark": {"type": "square", "size": 200, "fill": "#d3d3d3", "stroke": "#111", "strokeWidth": 1.2, "opacity": 1, "yOffset": -6.5},
         "encoding": {"x": {"field": "x", "type": "quantitative"}, "y": {"field": "s", "type": "quantitative"}}},
        {"data": {"name": "nodes"}, "transform": [{"filter": "datum.p == 'M' && datum.id == 'N'"}], "mark": {"type": "text", "fontSize": 13, "font": "Liberation Serif", "color": "#000", "yOffset": -6},
         "encoding": {"x": {"field": "x", "type": "quantitative"}, "y": {"field": "s", "type": "quantitative"}, "text": {"field": "id"}}}
      ]}
     ],
     "resolve": {"scale": {"y": "independent"}, "axis": {"y": "independent"}}
    },
    {"width": 218, "height": 270,
     "layer": [
      {"layer": [
        {"data": {"name": "arcs"}, "transform": [{"filter": "datum.p == 'M' && datum.plot == 'ATC'"}],
         "mark": {"type": "arc", "theta": -1.5708, "theta2": 1.5708, "clip": true, "stroke": "#222", "strokeWidth": 0.5, "strokeOpacity": 0.45, "fillOpacity": 0.95},
         "encoding": {"x": {"field": "c", "type": "quantitative", "stack": null, "scale": {"domain": [0, 1], "range": [117, 219], "nice": false}, "axis": {"orient": "bottom", "offset": -180.7, "values": [0], "format": "~g", "title": "CCF"}},
          "y": {"datum": 0, "type": "quantitative", "scale": {"domain": [0, 1], "range": [89.3, -12.7], "nice": false}, "axis": null},
          "radius": {"field": "r", "type": "quantitative", "stack": null, "scale": {"type": "linear", "domain": [0, 1], "range": [0, 102]}},
          "fill": {"field": "clone", "type": "nominal", "scale": {"domain": ["1","2","3","4","5","6","7"], "range": ["#5dbfa8","#6cbb4c","#d160c1","#4e5d1e","#6f8fd0","#dd4b52","#5b1c33"]}, "legend": null}}},
        {"data": {"name": "arcs"}, "transform": [{"filter": "datum.p == 'M' && datum.plot == 'ATC' && datum.lbl == 1"}], "mark": {"type": "text", "fontSize": 5.5, "baseline": "top", "dy": 1.5, "color": "#222"},
         "encoding": {"x": {"field": "c", "type": "quantitative"}, "y": {"field": "r", "type": "quantitative"}, "text": {"field": "clone"}}},
        {"data": {"values": [{}]}, "mark": {"type": "rule", "clip": true, "color": "#111", "strokeWidth": 1.2},
         "encoding": {"x": {"datum": 0, "type": "quantitative"}, "x2": {"datum": 1}, "y": {"datum": 0, "type": "quantitative"}}},
        {"data": {"values": [{"t": "ATC"}]}, "mark": {"type": "text", "fontSize": 6.5, "color": "#222"},
         "encoding": {"x": {"datum": 0.5, "type": "quantitative"}, "y": {"datum": 0.655, "type": "quantitative"}, "text": {"field": "t"}}}
      ]},
      {"layer": [
        {"data": {"name": "arcs"}, "transform": [{"filter": "datum.p == 'M' && datum.plot == 'DTC'"}],
         "mark": {"type": "arc", "theta": -1.5708, "theta2": 1.5708, "clip": true, "stroke": "#222", "strokeWidth": 0.5, "strokeOpacity": 0.45, "fillOpacity": 0.95},
         "encoding": {"x": {"field": "c", "type": "quantitative", "stack": null, "scale": {"domain": [0, 1], "range": [117, 219], "nice": false}, "axis": {"orient": "bottom", "offset": -40.7, "values": [0, 0.8], "format": "~g", "title": "CCF"}},
          "y": {"datum": 0, "type": "quantitative", "scale": {"domain": [0, 1], "range": [229.3, 127.3], "nice": false}, "axis": null},
          "radius": {"field": "r", "type": "quantitative", "stack": null, "scale": {"type": "linear", "domain": [0, 1], "range": [0, 102]}},
          "fill": {"field": "clone", "type": "nominal", "scale": {"domain": ["1","2","3","4","5","6","7"], "range": ["#5dbfa8","#6cbb4c","#d160c1","#4e5d1e","#6f8fd0","#dd4b52","#5b1c33"]}, "legend": null}}},
        {"data": {"name": "arcs"}, "transform": [{"filter": "datum.p == 'M' && datum.plot == 'DTC' && datum.lbl == 1"}], "mark": {"type": "text", "fontSize": 5.5, "baseline": "top", "dy": 1.5, "color": "#222"},
         "encoding": {"x": {"field": "c", "type": "quantitative"}, "y": {"field": "r", "type": "quantitative"}, "text": {"field": "clone"}}},
        {"data": {"values": [{}]}, "mark": {"type": "rule", "clip": true, "color": "#111", "strokeWidth": 1.2},
         "encoding": {"x": {"datum": 0, "type": "quantitative"}, "x2": {"datum": 1}, "y": {"datum": 0, "type": "quantitative"}}},
        {"data": {"values": [{"t": "DTC"}]}, "mark": {"type": "text", "fontSize": 6.5, "color": "#222"},
         "encoding": {"x": {"datum": 0.5, "type": "quantitative"}, "y": {"datum": 0.655, "type": "quantitative"}, "text": {"field": "t"}}}
      ]}
     ],
     "resolve": {"scale": {"x": "independent", "y": "independent", "radius": "independent"}, "axis": {"x": "independent", "y": "independent"}}
    },
    {"width": 72, "height": 270, "data": {"values": []}, "mark": "point", "encoding": {}},
    {"width": 100, "height": 270,
     "title": {"text": "N", "dx": -60, "dy": 46, "fontSize": 33},
     "layer": [
      {"data": {"values": [{}]}, "mark": {"type": "rule", "opacity": 0},
       "encoding": {"y": {"datum": 0, "type": "quantitative", "scale": {"domain": [0, 96.6], "range": [76, 207.3], "nice": false}, "axis": {"orient": "left", "values": [0,10,20,30,40,50,60,70,80,90], "format": "d", "title": "PGA"}}}},
      {"layer": [
        {"data": {"name": "edges"}, "transform": [{"filter": "datum.p == 'N'"}], "mark": {"type": "rule", "strokeWidth": 2.6},
         "encoding": {"x": {"field": "x1", "type": "quantitative", "scale": {"domain": [0, 1], "nice": false}, "axis": {"orient": "bottom", "offset": -62.7, "labels": false, "ticks": false, "title": null, "domain": true, "domainColor": "#777"}}, "x2": {"field": "x2"},
          "y": {"field": "s1", "type": "quantitative", "scale": {"domain": [0, 2564], "range": [76, 207.3], "nice": false}, "axis": {"orient": "right", "values": [0,500,1000,1500,2000,2500], "format": "d", "title": "SNVs"}}, "y2": {"field": "s2"},
          "stroke": {"field": "k", "type": "nominal", "scale": {"domain": ["trunk", "branch"], "range": ["#1d1d8c", "#f4d60c"]}, "legend": null}}},
        {"data": {"name": "nodes"}, "transform": [{"filter": "datum.p == 'N' && datum.id != 'N'"}], "mark": {"type": "circle", "size": 135, "opacity": 1},
         "encoding": {"x": {"field": "x", "type": "quantitative"}, "y": {"field": "s", "type": "quantitative"}, "fill": {"field": "id", "type": "nominal", "scale": {"domain": ["1","2","3","4","5","6","7"], "range": ["#5dbfa8","#6cbb4c","#d160c1","#4e5d1e","#6f8fd0","#dd4b52","#5b1c33"]}, "legend": null}}},
        {"data": {"name": "nodes"}, "transform": [{"filter": "datum.p == 'N' && datum.id != 'N'"}], "mark": {"type": "text", "fontSize": 11, "color": "#fff"},
         "encoding": {"x": {"field": "x", "type": "quantitative"}, "y": {"field": "s", "type": "quantitative"}, "text": {"field": "id"}}},
        {"data": {"name": "nodes"}, "transform": [{"filter": "datum.p == 'N' && datum.id == 'N'"}], "mark": {"type": "square", "size": 200, "fill": "#d3d3d3", "stroke": "#111", "strokeWidth": 1.2, "opacity": 1, "yOffset": -6.5},
         "encoding": {"x": {"field": "x", "type": "quantitative"}, "y": {"field": "s", "type": "quantitative"}}},
        {"data": {"name": "nodes"}, "transform": [{"filter": "datum.p == 'N' && datum.id == 'N'"}], "mark": {"type": "text", "fontSize": 13, "font": "Liberation Serif", "color": "#000", "yOffset": -6},
         "encoding": {"x": {"field": "x", "type": "quantitative"}, "y": {"field": "s", "type": "quantitative"}, "text": {"field": "id"}}}
      ]}
     ],
     "resolve": {"scale": {"y": "independent"}, "axis": {"y": "independent"}}
    },
    {"width": 323, "height": 270,
     "layer": [
      {"layer": [
        {"data": {"name": "arcs"}, "transform": [{"filter": "datum.p == 'N' && datum.plot == 'ATC'"}],
         "mark": {"type": "arc", "theta": -1.5708, "theta2": 1.5708, "clip": true, "stroke": "#222", "strokeWidth": 0.5, "strokeOpacity": 0.45, "fillOpacity": 0.95},
         "encoding": {"x": {"field": "c", "type": "quantitative", "stack": null, "scale": {"domain": [0, 1], "range": [114.3, 216.3], "nice": false}, "axis": {"orient": "bottom", "offset": -178.3, "values": [0, 1], "format": "~g", "title": "CCF"}},
          "y": {"datum": 0, "type": "quantitative", "scale": {"domain": [0, 1], "range": [91.7, -10.3], "nice": false}, "axis": null},
          "radius": {"field": "r", "type": "quantitative", "stack": null, "scale": {"type": "linear", "domain": [0, 1], "range": [0, 102]}},
          "fill": {"field": "clone", "type": "nominal", "scale": {"domain": ["1","2","3","4","5","6","7"], "range": ["#5dbfa8","#6cbb4c","#d160c1","#4e5d1e","#6f8fd0","#dd4b52","#5b1c33"]}, "legend": null}}},
        {"data": {"name": "arcs"}, "transform": [{"filter": "datum.p == 'N' && datum.plot == 'ATC' && datum.lbl == 1"}], "mark": {"type": "text", "fontSize": 5.5, "baseline": "top", "dy": 1.5, "color": "#222"},
         "encoding": {"x": {"field": "c", "type": "quantitative"}, "y": {"field": "r", "type": "quantitative"}, "text": {"field": "clone"}}},
        {"data": {"values": [{}]}, "mark": {"type": "rule", "clip": true, "color": "#111", "strokeWidth": 1.2},
         "encoding": {"x": {"datum": 0, "type": "quantitative"}, "x2": {"datum": 1}, "y": {"datum": 0, "type": "quantitative"}}},
        {"data": {"values": [{"t": "ATC"}]}, "mark": {"type": "text", "fontSize": 6.5, "color": "#222"},
         "encoding": {"x": {"datum": 0.5, "type": "quantitative"}, "y": {"datum": 0.655, "type": "quantitative"}, "text": {"field": "t"}}}
      ]},
      {"layer": [
        {"data": {"name": "arcs"}, "transform": [{"filter": "datum.p == 'N' && datum.plot == 'DTC'"}],
         "mark": {"type": "arc", "theta": -1.5708, "theta2": 1.5708, "clip": true, "stroke": "#222", "strokeWidth": 0.5, "strokeOpacity": 0.45, "fillOpacity": 0.95},
         "encoding": {"x": {"field": "c", "type": "quantitative", "stack": null, "scale": {"domain": [0, 1], "range": [114.3, 216.3], "nice": false}, "axis": {"orient": "bottom", "offset": -41.7, "values": [0, 0.9, 1], "format": "~g", "title": "CCF"}},
          "y": {"datum": 0, "type": "quantitative", "scale": {"domain": [0, 1], "range": [228.3, 126.3], "nice": false}, "axis": null},
          "radius": {"field": "r", "type": "quantitative", "stack": null, "scale": {"type": "linear", "domain": [0, 1], "range": [0, 102]}},
          "fill": {"field": "clone", "type": "nominal", "scale": {"domain": ["1","2","3","4","5","6","7"], "range": ["#5dbfa8","#6cbb4c","#d160c1","#4e5d1e","#6f8fd0","#dd4b52","#5b1c33"]}, "legend": null}}},
        {"data": {"name": "arcs"}, "transform": [{"filter": "datum.p == 'N' && datum.plot == 'DTC' && datum.lbl == 1"}], "mark": {"type": "text", "fontSize": 5.5, "baseline": "top", "dy": 1.5, "color": "#222"},
         "encoding": {"x": {"field": "c", "type": "quantitative"}, "y": {"field": "r", "type": "quantitative"}, "text": {"field": "clone"}}},
        {"data": {"values": [{}]}, "mark": {"type": "rule", "clip": true, "color": "#111", "strokeWidth": 1.2},
         "encoding": {"x": {"datum": 0, "type": "quantitative"}, "x2": {"datum": 1}, "y": {"datum": 0, "type": "quantitative"}}},
        {"data": {"values": [{"t": "DTC"}]}, "mark": {"type": "text", "fontSize": 6.5, "color": "#222"},
         "encoding": {"x": {"datum": 0.5, "type": "quantitative"}, "y": {"datum": 0.655, "type": "quantitative"}, "text": {"field": "t"}}}
      ]}
     ],
     "resolve": {"scale": {"x": "independent", "y": "independent", "radius": "independent"}, "axis": {"x": "independent", "y": "independent"}}
    },
    {"width": 102, "height": 270,
     "title": {"text": "O", "dx": -73, "dy": 46, "fontSize": 33},
     "layer": [
      {"data": {"values": [{}]}, "mark": {"type": "rule", "opacity": 0},
       "encoding": {"y": {"datum": 0, "type": "quantitative", "scale": {"domain": [0, 107.5], "range": [67.3, 216], "nice": false}, "axis": {"orient": "left", "values": [0,10,20,30,40,50,60,70,80,90,100], "format": "d", "title": "PGA"}}}},
      {"layer": [
        {"data": {"name": "edges"}, "transform": [{"filter": "datum.p == 'O'"}], "mark": {"type": "rule", "strokeWidth": 2.6},
         "encoding": {"x": {"field": "x1", "type": "quantitative", "scale": {"domain": [0, 1], "nice": false}, "axis": {"orient": "bottom", "offset": -54, "labels": false, "ticks": false, "title": null, "domain": true, "domainColor": "#777"}}, "x2": {"field": "x2"},
          "y": {"field": "s1", "type": "quantitative", "scale": {"domain": [0, 2873], "range": [67.3, 216], "nice": false}, "axis": {"orient": "right", "values": [0,500,1000,1500,2000,2500], "format": "d", "title": "SNVs"}}, "y2": {"field": "s2"},
          "stroke": {"field": "k", "type": "nominal", "scale": {"domain": ["trunk", "branch"], "range": ["#1d1d8c", "#f4d60c"]}, "legend": null}}},
        {"data": {"name": "nodes"}, "transform": [{"filter": "datum.p == 'O' && datum.id != 'N'"}], "mark": {"type": "circle", "size": 135, "opacity": 1},
         "encoding": {"x": {"field": "x", "type": "quantitative"}, "y": {"field": "s", "type": "quantitative"}, "fill": {"field": "id", "type": "nominal", "scale": {"domain": ["1","2","3","4","5","6","7"], "range": ["#5dbfa8","#6cbb4c","#d160c1","#4e5d1e","#6f8fd0","#dd4b52","#5b1c33"]}, "legend": null}}},
        {"data": {"name": "nodes"}, "transform": [{"filter": "datum.p == 'O' && datum.id != 'N'"}], "mark": {"type": "text", "fontSize": 11, "color": "#fff"},
         "encoding": {"x": {"field": "x", "type": "quantitative"}, "y": {"field": "s", "type": "quantitative"}, "text": {"field": "id"}}},
        {"data": {"name": "nodes"}, "transform": [{"filter": "datum.p == 'O' && datum.id == 'N'"}], "mark": {"type": "square", "size": 200, "fill": "#d3d3d3", "stroke": "#111", "strokeWidth": 1.2, "opacity": 1, "yOffset": -6.5},
         "encoding": {"x": {"field": "x", "type": "quantitative"}, "y": {"field": "s", "type": "quantitative"}}},
        {"data": {"name": "nodes"}, "transform": [{"filter": "datum.p == 'O' && datum.id == 'N'"}], "mark": {"type": "text", "fontSize": 13, "font": "Liberation Serif", "color": "#000", "yOffset": -6},
         "encoding": {"x": {"field": "x", "type": "quantitative"}, "y": {"field": "s", "type": "quantitative"}, "text": {"field": "id"}}}
      ]}
     ],
     "resolve": {"scale": {"y": "independent"}, "axis": {"y": "independent"}}
    },
    {"width": 217, "height": 270,
     "layer": [
      {"layer": [
        {"data": {"name": "arcs"}, "transform": [{"filter": "datum.p == 'O' && datum.plot == 'ATC'"}],
         "mark": {"type": "arc", "theta": -1.5708, "theta2": 1.5708, "clip": true, "stroke": "#222", "strokeWidth": 0.5, "strokeOpacity": 0.45, "fillOpacity": 0.95},
         "encoding": {"x": {"field": "c", "type": "quantitative", "stack": null, "scale": {"domain": [0, 1], "range": [114.3, 216.3], "nice": false}, "axis": {"orient": "bottom", "offset": -178.3, "values": [0], "format": "~g", "title": "CCF"}},
          "y": {"datum": 0, "type": "quantitative", "scale": {"domain": [0, 1], "range": [91.7, -10.3], "nice": false}, "axis": null},
          "radius": {"field": "r", "type": "quantitative", "stack": null, "scale": {"type": "linear", "domain": [0, 1], "range": [0, 102]}},
          "fill": {"field": "clone", "type": "nominal", "scale": {"domain": ["1","2","3","4","5","6","7"], "range": ["#5dbfa8","#6cbb4c","#d160c1","#4e5d1e","#6f8fd0","#dd4b52","#5b1c33"]}, "legend": null}}},
        {"data": {"name": "arcs"}, "transform": [{"filter": "datum.p == 'O' && datum.plot == 'ATC' && datum.lbl == 1"}], "mark": {"type": "text", "fontSize": 5.5, "baseline": "top", "dy": 1.5, "color": "#222"},
         "encoding": {"x": {"field": "c", "type": "quantitative"}, "y": {"field": "r", "type": "quantitative"}, "text": {"field": "clone"}}},
        {"data": {"values": [{}]}, "mark": {"type": "rule", "clip": true, "color": "#111", "strokeWidth": 1.2},
         "encoding": {"x": {"datum": 0, "type": "quantitative"}, "x2": {"datum": 1}, "y": {"datum": 0, "type": "quantitative"}}},
        {"data": {"values": [{"t": "ATC"}]}, "mark": {"type": "text", "fontSize": 6.5, "color": "#222"},
         "encoding": {"x": {"datum": 0.5, "type": "quantitative"}, "y": {"datum": 0.655, "type": "quantitative"}, "text": {"field": "t"}}}
      ]},
      {"layer": [
        {"data": {"name": "arcs"}, "transform": [{"filter": "datum.p == 'O' && datum.plot == 'DTC'"}],
         "mark": {"type": "arc", "theta": -1.5708, "theta2": 1.5708, "clip": true, "stroke": "#222", "strokeWidth": 0.5, "strokeOpacity": 0.45, "fillOpacity": 0.95},
         "encoding": {"x": {"field": "c", "type": "quantitative", "stack": null, "scale": {"domain": [0, 1], "range": [114.3, 216.3], "nice": false}, "axis": {"orient": "bottom", "offset": -40.7, "values": [0, 0.7], "format": "~g", "title": "CCF"}},
          "y": {"datum": 0, "type": "quantitative", "scale": {"domain": [0, 1], "range": [229.3, 127.3], "nice": false}, "axis": null},
          "radius": {"field": "r", "type": "quantitative", "stack": null, "scale": {"type": "linear", "domain": [0, 1], "range": [0, 102]}},
          "fill": {"field": "clone", "type": "nominal", "scale": {"domain": ["1","2","3","4","5","6","7"], "range": ["#5dbfa8","#6cbb4c","#d160c1","#4e5d1e","#6f8fd0","#dd4b52","#5b1c33"]}, "legend": null}}},
        {"data": {"name": "arcs"}, "transform": [{"filter": "datum.p == 'O' && datum.plot == 'DTC' && datum.lbl == 1"}], "mark": {"type": "text", "fontSize": 5.5, "baseline": "top", "dy": 1.5, "color": "#222"},
         "encoding": {"x": {"field": "c", "type": "quantitative"}, "y": {"field": "r", "type": "quantitative"}, "text": {"field": "clone"}}},
        {"data": {"values": [{}]}, "mark": {"type": "rule", "clip": true, "color": "#111", "strokeWidth": 1.2},
         "encoding": {"x": {"datum": 0, "type": "quantitative"}, "x2": {"datum": 1}, "y": {"datum": 0, "type": "quantitative"}}},
        {"data": {"values": [{"t": "DTC"}]}, "mark": {"type": "text", "fontSize": 6.5, "color": "#222"},
         "encoding": {"x": {"datum": 0.5, "type": "quantitative"}, "y": {"datum": 0.655, "type": "quantitative"}, "text": {"field": "t"}}}
      ]}
     ],
     "resolve": {"scale": {"x": "independent", "y": "independent", "radius": "independent"}, "axis": {"x": "independent", "y": "independent"}}
    },
    {"width": 77, "height": 270, "data": {"values": []}, "mark": "point", "encoding": {}},
    {"width": 135, "height": 270,
     "title": {"text": "P", "dx": -60, "dy": 46, "fontSize": 33},
     "layer": [
      {"data": {"values": [{}]}, "mark": {"type": "rule", "opacity": 0},
       "encoding": {"y": {"datum": 0, "type": "quantitative", "scale": {"domain": [0, 123.7], "range": [54.3, 228.3], "nice": false}, "axis": {"orient": "left", "values": [0,10,20,30,40,50,60,70,80,90,100], "format": "d", "title": "PGA"}}}},
      {"layer": [
        {"data": {"name": "edges"}, "transform": [{"filter": "datum.p == 'P'"}], "mark": {"type": "rule", "strokeWidth": 2.6},
         "encoding": {"x": {"field": "x1", "type": "quantitative", "scale": {"domain": [0, 1], "nice": false}, "axis": {"orient": "bottom", "offset": -41.7, "labels": false, "ticks": false, "title": null, "domain": true, "domainColor": "#777"}}, "x2": {"field": "x2"},
          "y": {"field": "s1", "type": "quantitative", "scale": {"domain": [0, 3304], "range": [54.3, 228.3], "nice": false}, "axis": {"orient": "right", "values": [0,500,1000,1500,2000,2500,3000], "format": "d", "title": "SNVs"}}, "y2": {"field": "s2"},
          "stroke": {"field": "k", "type": "nominal", "scale": {"domain": ["trunk", "branch"], "range": ["#1d1d8c", "#f4d60c"]}, "legend": null}}},
        {"data": {"name": "nodes"}, "transform": [{"filter": "datum.p == 'P' && datum.id != 'N'"}], "mark": {"type": "circle", "size": 135, "opacity": 1},
         "encoding": {"x": {"field": "x", "type": "quantitative"}, "y": {"field": "s", "type": "quantitative"}, "fill": {"field": "id", "type": "nominal", "scale": {"domain": ["1","2","3","4","5","6","7"], "range": ["#5dbfa8","#6cbb4c","#d160c1","#4e5d1e","#6f8fd0","#dd4b52","#5b1c33"]}, "legend": null}}},
        {"data": {"name": "nodes"}, "transform": [{"filter": "datum.p == 'P' && datum.id != 'N'"}], "mark": {"type": "text", "fontSize": 11, "color": "#fff"},
         "encoding": {"x": {"field": "x", "type": "quantitative"}, "y": {"field": "s", "type": "quantitative"}, "text": {"field": "id"}}},
        {"data": {"name": "nodes"}, "transform": [{"filter": "datum.p == 'P' && datum.id == 'N'"}], "mark": {"type": "square", "size": 200, "fill": "#d3d3d3", "stroke": "#111", "strokeWidth": 1.2, "opacity": 1, "yOffset": -6.5},
         "encoding": {"x": {"field": "x", "type": "quantitative"}, "y": {"field": "s", "type": "quantitative"}}},
        {"data": {"name": "nodes"}, "transform": [{"filter": "datum.p == 'P' && datum.id == 'N'"}], "mark": {"type": "text", "fontSize": 13, "font": "Liberation Serif", "color": "#000", "yOffset": -6},
         "encoding": {"x": {"field": "x", "type": "quantitative"}, "y": {"field": "s", "type": "quantitative"}, "text": {"field": "id"}}}
      ]}
     ],
     "resolve": {"scale": {"y": "independent"}, "axis": {"y": "independent"}}
    },
    {"width": 181, "height": 270,
     "layer": [
      {"layer": [
        {"data": {"name": "arcs"}, "transform": [{"filter": "datum.p == 'P' && datum.plot == 'ATC'"}],
         "mark": {"type": "arc", "theta": -1.5708, "theta2": 1.5708, "clip": true, "stroke": "#222", "strokeWidth": 0.5, "strokeOpacity": 0.45, "fillOpacity": 0.95},
         "encoding": {"x": {"field": "c", "type": "quantitative", "stack": null, "scale": {"domain": [0, 1], "range": [100.7, 202.7], "nice": false}, "axis": {"orient": "bottom", "offset": -180, "values": [0], "format": "~g", "title": "CCF"}},
          "y": {"datum": 0, "type": "quantitative", "scale": {"domain": [0, 1], "range": [90, -12], "nice": false}, "axis": null},
          "radius": {"field": "r", "type": "quantitative", "stack": null, "scale": {"type": "linear", "domain": [0, 1], "range": [0, 102]}},
          "fill": {"field": "clone", "type": "nominal", "scale": {"domain": ["1","2","3","4","5","6","7"], "range": ["#5dbfa8","#6cbb4c","#d160c1","#4e5d1e","#6f8fd0","#dd4b52","#5b1c33"]}, "legend": null}}},
        {"data": {"name": "arcs"}, "transform": [{"filter": "datum.p == 'P' && datum.plot == 'ATC' && datum.lbl == 1"}], "mark": {"type": "text", "fontSize": 5.5, "baseline": "top", "dy": 1.5, "color": "#222"},
         "encoding": {"x": {"field": "c", "type": "quantitative"}, "y": {"field": "r", "type": "quantitative"}, "text": {"field": "clone"}}},
        {"data": {"values": [{}]}, "mark": {"type": "rule", "clip": true, "color": "#111", "strokeWidth": 1.2},
         "encoding": {"x": {"datum": 0, "type": "quantitative"}, "x2": {"datum": 1}, "y": {"datum": 0, "type": "quantitative"}}},
        {"data": {"values": [{"t": "ATC"}]}, "mark": {"type": "text", "fontSize": 6.5, "color": "#222"},
         "encoding": {"x": {"datum": 0.5, "type": "quantitative"}, "y": {"datum": 0.655, "type": "quantitative"}, "text": {"field": "t"}}}
      ]},
      {"layer": [
        {"data": {"name": "arcs"}, "transform": [{"filter": "datum.p == 'P' && datum.plot == 'DTC'"}],
         "mark": {"type": "arc", "theta": -1.5708, "theta2": 1.5708, "clip": true, "stroke": "#222", "strokeWidth": 0.5, "strokeOpacity": 0.45, "fillOpacity": 0.95},
         "encoding": {"x": {"field": "c", "type": "quantitative", "stack": null, "scale": {"domain": [0, 1], "range": [100.7, 202.7], "nice": false}, "axis": {"orient": "bottom", "offset": -40, "values": [0], "format": "~g", "title": "CCF"}},
          "y": {"datum": 0, "type": "quantitative", "scale": {"domain": [0, 1], "range": [230, 128], "nice": false}, "axis": null},
          "radius": {"field": "r", "type": "quantitative", "stack": null, "scale": {"type": "linear", "domain": [0, 1], "range": [0, 102]}},
          "fill": {"field": "clone", "type": "nominal", "scale": {"domain": ["1","2","3","4","5","6","7"], "range": ["#5dbfa8","#6cbb4c","#d160c1","#4e5d1e","#6f8fd0","#dd4b52","#5b1c33"]}, "legend": null}}},
        {"data": {"name": "arcs"}, "transform": [{"filter": "datum.p == 'P' && datum.plot == 'DTC' && datum.lbl == 1"}], "mark": {"type": "text", "fontSize": 5.5, "baseline": "top", "dy": 1.5, "color": "#222"},
         "encoding": {"x": {"field": "c", "type": "quantitative"}, "y": {"field": "r", "type": "quantitative"}, "text": {"field": "clone"}}},
        {"data": {"values": [{}]}, "mark": {"type": "rule", "clip": true, "color": "#111", "strokeWidth": 1.2},
         "encoding": {"x": {"datum": 0, "type": "quantitative"}, "x2": {"datum": 1}, "y": {"datum": 0, "type": "quantitative"}}},
        {"data": {"values": [{"t": "DTC"}]}, "mark": {"type": "text", "fontSize": 6.5, "color": "#222"},
         "encoding": {"x": {"datum": 0.5, "type": "quantitative"}, "y": {"datum": 0.655, "type": "quantitative"}, "text": {"field": "t"}}}
      ]}
     ],
     "resolve": {"scale": {"x": "independent", "y": "independent", "radius": "independent"}, "axis": {"x": "independent", "y": "independent"}}
    }
  ]}
  ],
  "config": {
    "view": {"stroke": null},
    "font": "Liberation Sans",
    "title": {"anchor": "start", "frame": "group", "offset": 0, "baseline": "alphabetic", "align": "left", "fontSize": 38, "fontWeight": "bold", "color": "#000", "font": "Liberation Sans"},
    "axis": {"grid": false, "labelOverlap": false, "labelFlush": false, "labelFont": "Liberation Sans", "titleFont": "Liberation Sans"},
    "axisLeft": {"titleFontSize": 20, "titleFontWeight": "normal", "titleColor": "#000", "titleBaseline": "alphabetic", "titlePadding": 13, "labelFontSize": 7, "labelColor": "#555", "labelPadding": 2, "tickSize": 4, "tickColor": "#777", "domainColor": "#777"},
    "axisRight": {"titleFontSize": 20, "titleFontWeight": "normal", "titleColor": "#000", "titleAngle": -90, "titleBaseline": "top", "titlePadding": 19, "labelFontSize": 7, "labelColor": "#555", "labelPadding": 2, "tickSize": 4, "tickColor": "#777", "domainColor": "#777"},
    "axisBottom": {"domain": false, "tickSize": 3, "tickColor": "#333", "tickWidth": 0.8, "labelFontSize": 5.5, "labelColor": "#555", "labelPadding": 6, "titleFontSize": 6.5, "titleFontWeight": "normal", "titleColor": "#444", "titlePadding": 5}
  }
}
